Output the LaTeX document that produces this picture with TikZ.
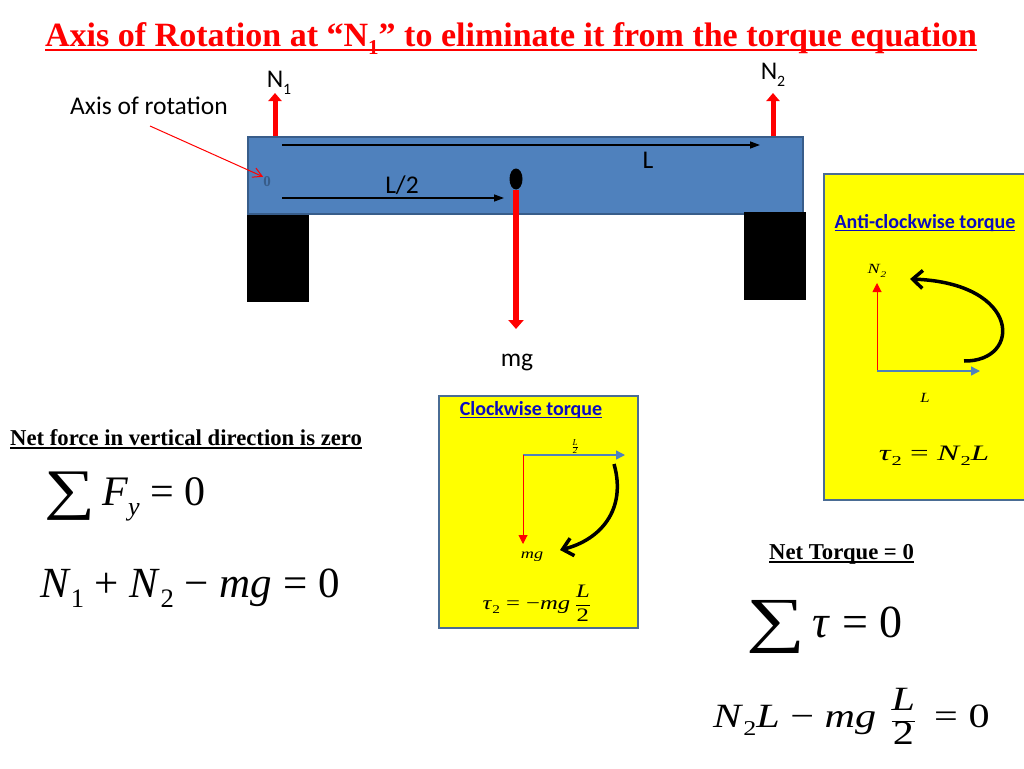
\documentclass[tikz,border=0pt]{standalone}
\usepackage{fontspec}
\setmainfont{Liberation Serif}
\newfontfamily\calibrifont{Carlito}
\usetikzlibrary{calc,arrows.meta,shapes.geometric}
\definecolor{beamblue}{HTML}{4F81BD}
\definecolor{beamedge}{HTML}{385D8A}
\definecolor{boxedge}{HTML}{4A6C94}
\definecolor{linkblue}{HTML}{0B0BC0}
\definecolor{boxyellow}{HTML}{FFFF00}
\definecolor{pureRed}{HTML}{FF0000}
\tikzset{
  force/.style={line width=5pt, pureRed, -{Triangle[length=8pt,width=13pt]}},
  heavyforce/.style={line width=6pt, pureRed, -{Triangle[length=9pt,width=15pt]}},
  thinforce/.style={line width=1pt, pureRed, -{Triangle[length=9pt,width=9pt]}},
  leverarm/.style={line width=1.4pt, beamblue, -{Triangle[length=9pt,width=9pt]}},
  dimline/.style={line width=1.3pt, black, -{Triangle[length=10pt,width=7pt]}},
  turn/.style={line width=3.5pt, black, -{Straight Barb[length=10pt,width=18pt]}},
  torquebox/.style={draw=boxedge, line width=2.5pt, fill=boxyellow},
  lbl/.style={inner sep=0, font=\calibrifont\fontsize{25.5}{25.5}\selectfont},
  boxtitle/.style={inner sep=0, anchor=base, text=linkblue, font=\calibrifont\bfseries\fontsize{20}{20}\selectfont},
  heading/.style={inner sep=0, anchor=base west, font=\bfseries\fontsize{22.7}{22.7}\selectfont},
  eqn/.style={inner sep=0, anchor=base west}
}
\newcommand{\itx}[1]{\textit{#1}}
\newcommand{\lowr}[1]{\raisebox{-0.25em}{\scalebox{0.62}{#1}}}
\newsavebox{\ulinebox}
\newcommand{\ulined}[3]{\sbox{\ulinebox}{#3}\rlap{\rule[-#1]{\wd\ulinebox}{#2}}\usebox{\ulinebox}}
\newcommand{\bigsum}[2]{\raisebox{#2}{\scalebox{#1}[1.33]{∑}}}
\newcommand{\halfL}{$\displaystyle\frac{\hbox{\itx{L}}}{\hbox{2}}$}
\begin{document}
\begin{tikzpicture}[x=1pt,y=-1pt]
\useasboundingbox (0,0) rectangle (1024,768);

% title
\node[heading, text=pureRed, font=\bfseries\fontsize{34}{34}\selectfont] (title) at (45,46) {\ulined{5pt}{2pt}{Axis of Rotation at “N\lowr{1}” to eliminate it from the torque equation}};

% beam and supports
\node[draw=beamedge, line width=2pt, fill=beamblue, minimum width=555pt, minimum height=77pt, inner sep=0] (beam) at (525,175) {};
\node[fill=black, minimum width=62pt, minimum height=87pt, inner sep=0] (supportA) at (277.5,258) {};
\node[fill=black, minimum width=62pt, minimum height=88pt, inner sep=0] (supportB) at (775,256) {};

\coordinate (n1base) at (275,136);
\coordinate (n1tip) at (275,93);
\coordinate (n2base) at (773,136);
\coordinate (n2tip) at (773,93);
\draw[force] (n1base) -- (n1tip);
\draw[force] (n2base) -- (n2tip);
\node[lbl] (n1) at (279,83) {N\lowr{1}};
\node[lbl] (n2) at (773,75) {N\lowr{2}};

% centre of mass
\node[ellipse, fill=black, minimum width=13pt, minimum height=21pt, inner sep=0] (cm) at (516,179) {};
\coordinate (mgtop) at (516,190);
\coordinate (mgtip) at (516,329);
\draw[heavyforce] (mgtop) -- (mgtip);
\node[lbl] (mg) at (517,362) {mg};

% lengths
\coordinate (lstart) at (282,145);
\coordinate (lend) at (760,145);
\coordinate (hstart) at (282,198);
\coordinate (hend) at (504,198);
\draw[dimline] (lstart) -- (lend);
\draw[dimline] (hstart) -- (hend);
\node[lbl] (llabel) at (648,160) {L};
\node[lbl] (hlabel) at (402,185) {L/2};

% axis of rotation
\node[lbl] (axislabel) at (149,106) {Axis of rotation};
\node[inner sep=0, text=beamedge, font=\bfseries\fontsize{15}{15}\selectfont] (pivot) at (267,182) {0};
\coordinate (axisfrom) at (150,126);
\draw[pureRed, line width=1pt, -{Straight Barb[length=9pt,width=10pt]}] (axisfrom) -- (pivot.north west);

% anti-clockwise box
\node[torquebox, minimum width=210pt, minimum height=326pt, inner sep=0] (boxA) at (929,337) {};
\node[boxtitle] (boxAtitle) at (925,228) {\ulined{3pt}{1.5pt}{Anti-clockwise torque}};
\coordinate (oA) at (877,371);
\coordinate (oAup) at (877,283);
\coordinate (oAright) at (980,371);
\draw[thinforce] (oA) -- (oAup);
\draw[leverarm] (oA) -- (oAright);
\coordinate (curveAa) at (964,361);
\coordinate (curveAb) at (910,279);
\draw[turn] (curveAa) .. controls (1022,362) and (1022,283) .. (curveAb);
\node[inner sep=0, font=\fontsize{14}{14}\selectfont] (n2small) at (877,271) {\scalebox{1.3}[1]{\itx{N}\lowr{\itx{2}}}};
\node[inner sep=0, font=\fontsize{14}{14}\selectfont] (lsmall) at (925,398) {\scalebox{1.2}[1]{\itx{L}}};
\node[inner sep=0, font=\fontsize{22}{22}\selectfont] (tauA) at (934,456) {\scalebox{1.5}[1]{\itx{τ}\lowr{2} = \itx{N}\lowr{2}\itx{L}}};

% clockwise box
\node[torquebox, minimum width=199pt, minimum height=232pt, inner sep=0] (boxB) at (538.5,512) {};
\node[boxtitle] (boxBtitle) at (531,415) {\ulined{3pt}{1.5pt}{Clockwise torque}};
\coordinate (oB) at (523,455);
\coordinate (oBdown) at (523,544);
\coordinate (oBright) at (625,455);
\draw[leverarm] (oB) -- (oBright);
\draw[thinforce] (oB) -- (oBdown);
\coordinate (curveBa) at (614,464);
\coordinate (curveBb) at (560,550);
\draw[turn] (curveBa) .. controls (627,510) and (600,540) .. (curveBb);
\node[inner sep=0, font=\fontsize{9}{9}\selectfont] (halfsmall) at (575,447) {$\frac{\itx{L}}{\itx{2}}$};
\node[inner sep=0, font=\fontsize{14}{14}\selectfont] (mgsmall) at (532,557) {\scalebox{1.3}[1]{\itx{mg}}};
\node[inner sep=0, font=\fontsize{19}{19}\selectfont] (tauB) at (537,603) {\scalebox{1.3}[1]{\itx{τ}\lowr{2} = −\itx{mg}\,\halfL}};

% vertical balance
\node[heading] (nethead) at (10,445) {\ulined{3.5pt}{1.5pt}{Net force in vertical direction is zero}};
\node[eqn, font=\fontsize{42}{42}\selectfont] (sumF) at (44,505) {\bigsum{1.7}{-3pt}\,\itx{F}\lowr{\itx{y}} = 0};
\node[eqn, font=\fontsize{43}{43}\selectfont] (eqF) at (40,597) {\itx{N}\lowr{1} + \itx{N}\lowr{2} − \itx{mg} = 0};

% torque balance
\node[heading] (torquehead) at (769,559) {\ulined{3.5pt}{1.5pt}{Net Torque = 0}};
\node[eqn, font=\fontsize{46}{46}\selectfont] (sumT) at (746,637) {\bigsum{1.8}{-3pt}\,\itx{τ} = 0};
\node[eqn, font=\fontsize{34}{34}\selectfont] (eqT) at (713,727) {\scalebox{1.24}[1]{\itx{N}\lowr{2}\itx{L} − \itx{mg}\,\,\halfL\, = 0}};
\end{tikzpicture}
\end{document}
